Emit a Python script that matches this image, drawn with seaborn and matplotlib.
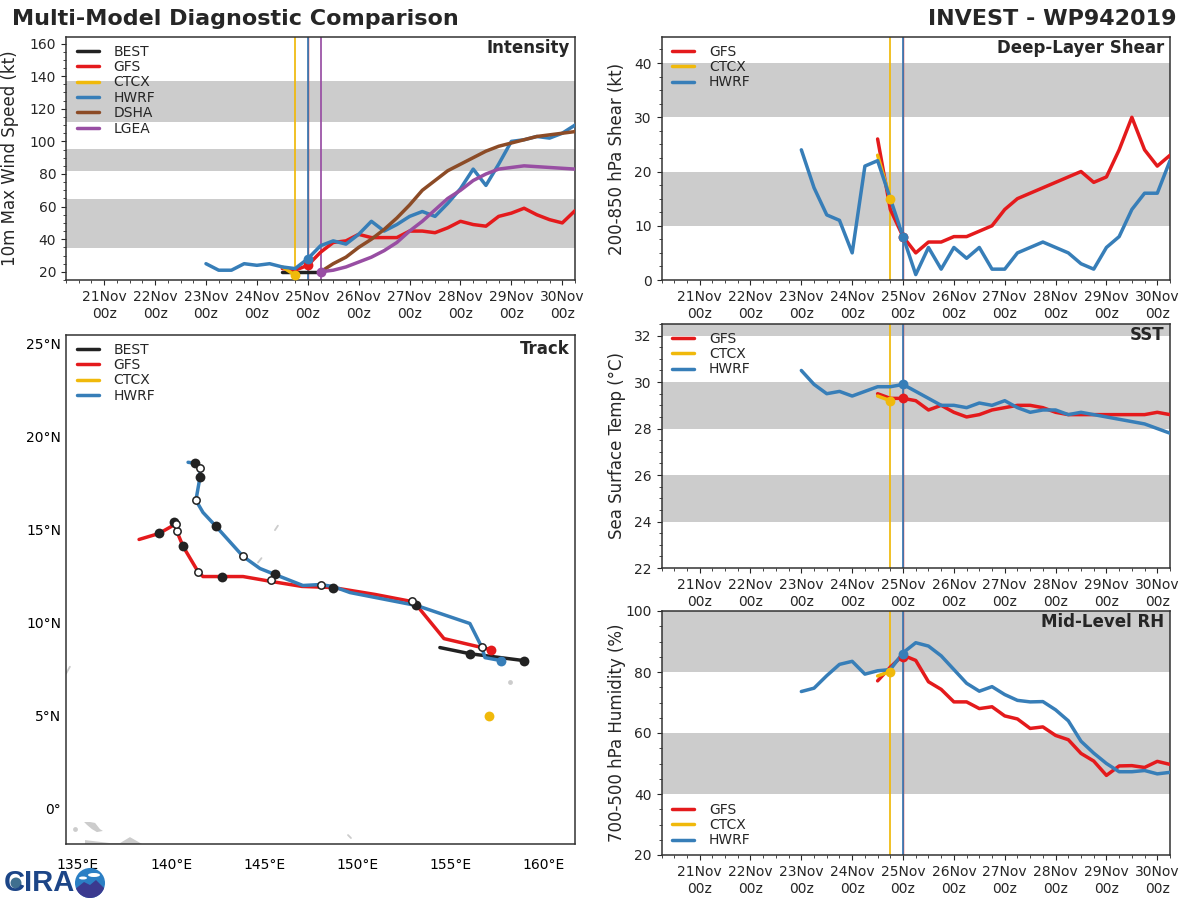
"""
Multi-model diagnostic comparison for INVEST WP942019
"""

import matplotlib.pyplot as plt
from matplotlib.patches import Circle, Ellipse, Polygon
from matplotlib.ticker import MultipleLocator
import numpy as np
import pandas as pd
import seaborn as sns


sns.set_style("ticks")

COLORS = {
    "BEST": "#222222",
    "GFS": "#e41a1c",
    "CTCX": "#f0b90b",
    "HWRF": "#377eb8",
    "DSHA": "#8c4b26",
    "LGEA": "#984ea3",
}
LAND = "#cccccc"

DAY_TICKS = [21, 22, 23, 24, 25, 26, 27, 28, 29, 30]
DAY_LABELS = [f"{d}Nov\n00z" for d in DAY_TICKS]

# Intensity (kt), 6-hourly
VMAX_BEST = [20, 20, 20, 20]
VMAX_GFS = [22, 21, 24, 32, 38, 39, 43, 41, 41, 41, 45, 45, 44, 47, 51, 49, 48, 54, 56, 59, 55, 52, 50, 57.5]
VMAX_CTCX = [23, 18]
VMAX_HWRF = [25, 21, 21, 25, 24, 25, 23, 22, 28, 36, 39, 37, 43, 51, 45, 49, 54, 57, 54, 62, 71, 83, 73, 86, 100, 101, 103, 102, 105, 110]
VMAX_DSHA = [20, 25, 29, 35, 40, 46, 53, 61, 70, 76, 82, 86, 90, 94, 97, 99, 101, 103, 104, 105, 106]
VMAX_LGEA = [20, 21, 23, 26, 29, 33, 38, 45, 51, 58, 65, 70, 76, 80, 83, 84, 85, 84.5, 84, 83.5, 83]

# Deep-layer shear (kt)
SHEAR_GFS = [26, 13, 8, 5, 7, 7, 8, 8, 9, 10, 13, 15, 16, 17, 18, 19, 20, 18, 19, 24, 30, 24, 21, 23]
SHEAR_CTCX = [23, 15]
SHEAR_HWRF = [24, 17, 12, 11, 5, 21, 22, 15, 8, 1, 6, 2, 6, 4, 6, 2, 2, 5, 6, 7, 6, 5, 3, 2, 6, 8, 13, 16, 16, 22]

# SST (C)
SST_GFS = [29.5, 29.3, 29.3, 29.2, 28.8, 29.0, 28.7, 28.5, 28.6, 28.8, 28.9, 29.0, 29.0, 28.9, 28.7, 28.6, 28.6, 28.6, 28.6, 28.6, 28.6, 28.6, 28.7, 28.6]
SST_CTCX = [29.4, 29.2]
SST_HWRF = [30.5, 29.9, 29.5, 29.6, 29.4, 29.6, 29.8, 29.8, 29.9, 29.6, 29.3, 29.0, 29.0, 28.9, 29.1, 29.0, 29.2, 28.9, 28.7, 28.8, 28.8, 28.6, 28.7, 28.6, 28.5, 28.4, 28.3, 28.2, 28.0, 27.8]

# Mid-level RH (%)
RH_GFS = [77.1, 81.6, 85.5, 83.8, 76.8, 74.3, 70.2, 70.2, 68.0, 68.6, 65.6, 64.6, 61.5, 62.0, 59.2, 57.8, 53.3, 50.8, 46.1, 49.2, 49.3, 48.7, 50.7, 49.7]
RH_CTCX = [78.7, 80.2]
RH_HWRF = [73.6, 74.7, 78.8, 82.5, 83.5, 79.3, 80.4, 80.8, 86.3, 89.6, 88.5, 85.3, 80.8, 76.3, 73.7, 75.2, 72.6, 70.7, 70.2, 70.3, 67.6, 64.0, 57.3, 53.4, 50.0, 47.3, 47.3, 47.7, 46.6, 47.1]

# Tracks
BEST_LON = [158.93, 156.03, 154.42]
BEST_LAT = [7.96, 8.33, 8.66]
GFS_LON = [157.16, 156.68, 154.64, 153.19, 152.92, 150.94, 148.68, 147.02, 145.41, 143.86, 142.73, 141.71, 141.44, 140.64, 140.31, 140.21, 139.35, 138.28]
GFS_LAT = [8.55, 8.66, 9.14, 10.91, 11.13, 11.51, 11.88, 11.94, 12.20, 12.47, 12.47, 12.47, 12.74, 14.09, 14.89, 15.27, 14.78, 14.46]
CTCX_LON = [157.05]
CTCX_LAT = [5.0]
HWRF_LON = [157.70, 156.84, 156.68, 156.03, 153.19, 149.60, 148.68, 147.99, 147.07, 145.57, 144.77, 143.86, 142.41, 141.71, 141.33, 141.55, 141.55, 141.28, 140.91]
HWRF_LAT = [7.96, 8.12, 8.66, 9.95, 10.91, 11.61, 11.94, 12.04, 11.99, 12.58, 12.90, 13.55, 15.16, 15.91, 16.56, 17.80, 18.28, 18.55, 18.60]

OPEN_LON = [156.68, 152.92, 148.04, 145.36, 143.86, 141.44, 140.31, 140.26, 141.33, 141.55]
OPEN_LAT = [8.71, 11.18, 12.04, 12.26, 13.55, 12.74, 14.89, 15.27, 16.56, 18.28]
FILLED_LON = [156.03, 158.93, 153.14, 148.68, 145.57, 142.73, 142.41, 140.64, 140.15, 139.35, 141.55, 141.28]
FILLED_LAT = [8.33, 7.96, 10.97, 11.88, 12.58, 12.47, 15.16, 14.09, 15.38, 14.78, 17.80, 18.55]

# Land bits
GUINEA_A_LON = [135.33, 135.65, 135.92, 136.18, 136.34, 136.02, 135.75, 135.49]
GUINEA_A_LAT = [-0.70, -0.70, -0.75, -1.08, -1.18, -1.24, -1.08, -0.86]
GUINEA_B_LON = [135.38, 136.72, 137.26, 137.79, 138.44, 135.38]
GUINEA_B_LAT = [-1.67, -1.83, -1.83, -1.51, -1.88, -1.88]
ISLE_LON = [[145.57, 145.73], [144.66, 144.85], [134.36, 134.57], [149.49, 149.65]]
ISLE_LAT = [[14.96, 15.20], [13.22, 13.46], [7.26, 7.63], [-1.40, -1.56]]
DOT_LON = [134.84, 158.18]
DOT_LAT = [-1.08, 6.83]

LON_TICKS = [135, 140, 145, 150, 155, 160]
LAT_TICKS = [0, 5, 10, 15, 20, 25]
LAT_LABELS = ["0°", "5°N", "10°N", "15°N", "20°N", "25°N"]


def pixel_axes(fig, left, top, right, bottom):
    return fig.add_axes([left / 1200, 1 - bottom / 900, (right - left) / 1200, (bottom - top) / 900])


def time_frame(series):
    rows = []
    for model, start, values in series:
        for i, v in enumerate(values):
            rows.append({"time": start + 0.25 * i, "value": v, "model": model})
    return pd.DataFrame(rows)


def plot_time_panel(ax, series, bands, ylim, ylabel, title, dots, vlines, yticks, yminor, legend_loc="upper left"):
    for lo, hi in bands:
        ax.axhspan(lo, hi, color=LAND, lw=0, zorder=0)
    for model, t in vlines:
        # the red GFS line sits under the blue HWRF one at the same time
        ax.axvline(t, color=COLORS[model], lw=1.0 if model == "GFS" else 1.25, zorder=1.5)

    df = time_frame(series)
    order = [s[0] for s in series]
    sns.lineplot(
        data=df, x="time", y="value", hue="model", hue_order=order, palette=COLORS,
        estimator=None, sort=False, lw=2.5, ax=ax, zorder=3,
    )
    for model, t, v in dots:
        sns.scatterplot(x=[t], y=[v], color=COLORS[model], s=50, linewidth=0, ax=ax, zorder=4, legend=False)

    ax.set_xlim(20.25, 30.25)
    ax.set_ylim(*ylim)
    ax.set_xticks(DAY_TICKS)
    ax.set_xticklabels(DAY_LABELS, linespacing=1.3)
    ax.xaxis.set_minor_locator(MultipleLocator(0.25))
    ax.set_yticks(yticks)
    ax.yaxis.set_minor_locator(MultipleLocator(yminor))
    ax.tick_params(labelsize=10, color="0.15", labelcolor="0.15")
    ax.set_xlabel("")
    ax.set_ylabel(ylabel, fontsize=12, color="0.15")
    finish_panel(ax, title, legend_loc)


def finish_panel(ax, title, legend_loc="upper left", title_drop=-8):
    ax.annotate(
        title, xy=(1, 1), xycoords="axes fraction", xytext=(-4, title_drop), textcoords="offset points",
        ha="right", va="center", fontsize=12, fontweight="bold", color="0.15", zorder=6,
    )
    handles, labels = ax.get_legend_handles_labels()
    anchor = (0.006, 1) if legend_loc == "upper left" else (0.006, 0)
    ax.legend(
        handles, labels, loc=legend_loc, bbox_to_anchor=anchor, frameon=False, fontsize=10, handlelength=1.6,
        handletextpad=1.05, labelspacing=0.1, borderaxespad=0.15, labelcolor="0.15",
    )
    for spine in ax.spines.values():
        spine.set_visible(True)
        spine.set_linewidth(1.1)
        spine.set_color("0.2")


if __name__ == "__main__":
    fig = plt.figure(figsize=(12, 9), dpi=100)

    fig.text(12 / 1200, 1 - 19 / 900, "Multi-Model Diagnostic Comparison", fontsize=16, fontweight="bold", color="0.15", va="center", ha="left")
    fig.text(1176 / 1200, 1 - 19 / 900, "INVEST - WP942019", fontsize=16, fontweight="bold", color="0.15", va="center", ha="right")

    # Intensity
    ax = pixel_axes(fig, 66, 37, 575, 280)
    plot_time_panel(
        ax,
        [("BEST", 24.5, VMAX_BEST), ("GFS", 24.5, VMAX_GFS), ("CTCX", 24.5, VMAX_CTCX),
         ("HWRF", 23, VMAX_HWRF), ("DSHA", 25.25, VMAX_DSHA), ("LGEA", 25.25, VMAX_LGEA)],
        [(34.5, 64.7), (81.8, 95.3), (111.6, 136.9)],
        (15, 164),
        "10m Max Wind Speed (kt)",
        "Intensity",
        [("CTCX", 24.75, 18), ("GFS", 25, 24), ("HWRF", 25, 28), ("LGEA", 25.25, 20)],
        [("CTCX", 24.75), ("GFS", 25), ("HWRF", 25), ("LGEA", 25.25)],
        [20, 40, 60, 80, 100, 120, 140, 160],
        5,
    )
    ax.yaxis.set_label_coords(-0.093, 0.5)

    # Shear
    ax = pixel_axes(fig, 661.5, 37, 1170, 280)
    plot_time_panel(
        ax,
        [("GFS", 24.5, SHEAR_GFS), ("CTCX", 24.5, SHEAR_CTCX), ("HWRF", 23, SHEAR_HWRF)],
        [(10, 20), (30, 40)],
        (0, 44.8),
        "200-850 hPa Shear (kt)",
        "Deep-Layer Shear",
        [("CTCX", 24.75, 15), ("GFS", 25, 8), ("HWRF", 25, 8)],
        [("CTCX", 24.75), ("GFS", 25), ("HWRF", 25)],
        [0, 10, 20, 30, 40],
        2.5,
    )
    ax.yaxis.set_label_coords(-0.07, 0.5)

    # SST
    ax = pixel_axes(fig, 661.5, 324, 1170, 568)
    plot_time_panel(
        ax,
        [("GFS", 24.5, SST_GFS), ("CTCX", 24.5, SST_CTCX), ("HWRF", 23, SST_HWRF)],
        [(24, 26), (28, 30), (32, 33)],
        (22, 32.5),
        "Sea Surface Temp (°C)",
        "SST",
        [("CTCX", 24.75, 29.2), ("GFS", 25, 29.3), ("HWRF", 25, 29.9)],
        [("CTCX", 24.75), ("GFS", 25), ("HWRF", 25)],
        [22, 24, 26, 28, 30, 32],
        0.5,
    )
    ax.yaxis.set_label_coords(-0.07, 0.5)

    # RH
    ax = pixel_axes(fig, 661.5, 611, 1170, 855)
    plot_time_panel(
        ax,
        [("GFS", 24.5, RH_GFS), ("CTCX", 24.5, RH_CTCX), ("HWRF", 23, RH_HWRF)],
        [(40, 60), (80, 100)],
        (20, 100),
        "700-500 hPa Humidity (%)",
        "Mid-Level RH",
        [("CTCX", 24.75, 80), ("GFS", 25, 85), ("HWRF", 25, 86)],
        [("CTCX", 24.75), ("GFS", 25), ("HWRF", 25)],
        [20, 40, 60, 80, 100],
        5,
        legend_loc="lower left",
    )
    ax.yaxis.set_label_coords(-0.07, 0.5)

    # Track
    ax = pixel_axes(fig, 66, 335, 575, 844)
    ax.add_patch(Polygon(np.column_stack([GUINEA_A_LON, GUINEA_A_LAT]), color=LAND, lw=0))
    ax.add_patch(Polygon(np.column_stack([GUINEA_B_LON, GUINEA_B_LAT]), color=LAND, lw=0))
    for lon, lat in zip(ISLE_LON, ISLE_LAT):
        ax.plot(lon, lat, color=LAND, lw=1.3)
    sns.scatterplot(x=DOT_LON, y=DOT_LAT, color=LAND, s=12, linewidth=0, ax=ax, legend=False)

    tracks = [("BEST", BEST_LON, BEST_LAT), ("GFS", GFS_LON, GFS_LAT), ("CTCX", CTCX_LON, CTCX_LAT), ("HWRF", HWRF_LON, HWRF_LAT)]
    track_df = pd.concat(
        [pd.DataFrame({"lon": lon, "lat": lat, "model": m}) for m, lon, lat in tracks], ignore_index=True
    )
    sns.lineplot(
        data=track_df, x="lon", y="lat", hue="model", hue_order=[t[0] for t in tracks], palette=COLORS,
        estimator=None, sort=False, lw=2.5, ax=ax, zorder=3,
    )
    sns.scatterplot(x=FILLED_LON, y=FILLED_LAT, color=COLORS["BEST"], s=50, linewidth=0, ax=ax, zorder=4, legend=False)
    sns.scatterplot(x=OPEN_LON, y=OPEN_LAT, color="white", edgecolor=COLORS["BEST"], s=28, linewidth=1.1, ax=ax, zorder=5, legend=False)
    for model, lon, lat in [("GFS", 157.16, 8.55), ("HWRF", 157.70, 7.96), ("CTCX", 157.05, 5.0)]:
        sns.scatterplot(x=[lon], y=[lat], color=COLORS[model], s=50, linewidth=0, ax=ax, zorder=5, legend=False)

    ax.set_xlim(134.36, 161.67)
    ax.set_ylim(-1.88, 25.43)
    ax.set_xticks(LON_TICKS)
    ax.set_xticklabels([f"{x}°E" for x in LON_TICKS])
    ax.set_yticks(LAT_TICKS)
    ax.set_yticklabels(LAT_LABELS)
    ax.tick_params(length=0, labelsize=10, colors="black")
    ax.tick_params(axis="x", pad=10)
    ax.tick_params(axis="y", pad=3.5)
    ax.set_xlabel("")
    ax.set_ylabel("")
    finish_panel(ax, "Track", title_drop=-10)

    # Logo, drawn in pixel coordinates over everything
    logo = fig.add_axes([0, 0, 1, 1], facecolor="none")
    logo.set_xlim(0, 1200)
    logo.set_ylim(900, 0)
    logo.axis("off")
    logo.add_patch(Circle((16, 883), 5.5, color="#3f6f8f", lw=0, zorder=1))
    logo.text(4, 883, "CIRA", fontsize=21, fontweight="bold", color="#1c4587", va="center", ha="left", family="Liberation Sans", zorder=2)
    disc = Circle((90, 883), 15, color="#2b7fc4", lw=0, zorder=3)
    logo.add_patch(disc)
    hills = Polygon([[74, 890], [84, 882], [90, 885], [96, 880], [106, 890], [106, 899], [74, 899]], color="#3b3a8f", lw=0, zorder=4)
    logo.add_patch(hills)
    hills.set_clip_path(disc)
    for cx, cy, w, h in [(83, 878, 8, 3), (94, 875, 12, 4)]:
        logo.add_patch(Ellipse((cx, cy), w, h, color="white", lw=0, zorder=5))

    plt.savefig("out.png", dpi=100)
